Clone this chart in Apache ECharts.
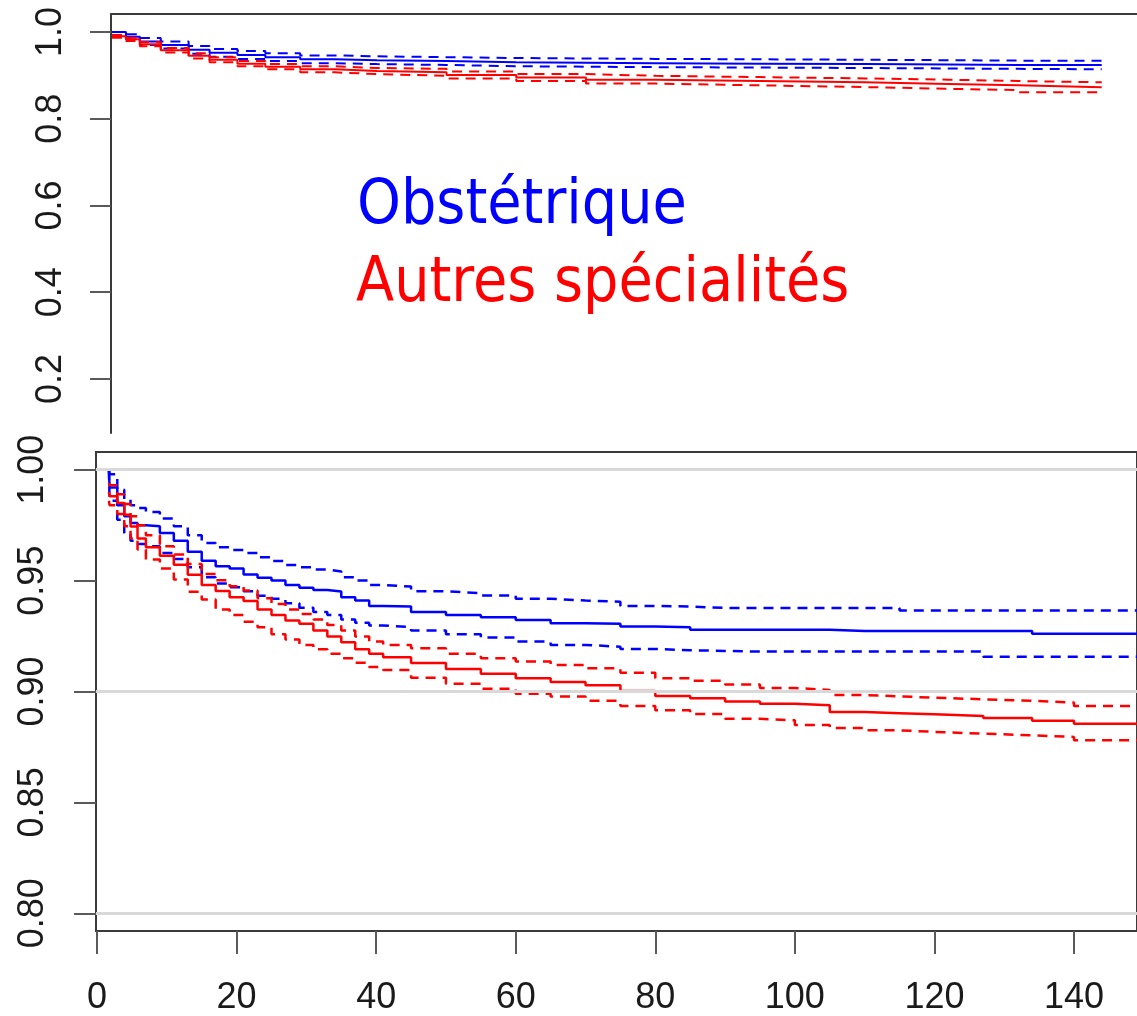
<!DOCTYPE html>
<html>
<head>
<meta charset="utf-8">
<script src="https://cdn.jsdelivr.net/npm/echarts@6/dist/echarts.min.js"></script>
<style>
html,body{margin:0;padding:0;background:#fff;}
#chart{width:1137px;height:1016px;}
</style>
</head>
<body>
<div id="chart"></div>
<script>
// ---------- Data ----------
// Legend labels
const groupNames = ['Obstétrique', 'Autres spécialités'];

// Top panel (full scale)
const topTimes      = [2, 4, 6, 9, 13, 16, 20, 24, 29, 34, 40, 50, 60, 70, 80, 95, 110, 122, 132, 144];
const topBlueSurv   = [1.0, 0.989, 0.978, 0.970, 0.959, 0.952, 0.947, 0.942, 0.937, 0.935, 0.933, 0.930, 0.929, 0.928, 0.927, 0.926, 0.925, 0.924, 0.924, 0.924];
const topBlueUpper  = [1.0, 0.995, 0.986, 0.978, 0.968, 0.961, 0.956, 0.951, 0.946, 0.944, 0.942, 0.940, 0.939, 0.938, 0.937, 0.936, 0.935, 0.934, 0.934, 0.934];
const topBlueLower  = [1.0, 0.983, 0.970, 0.962, 0.950, 0.943, 0.938, 0.933, 0.928, 0.926, 0.924, 0.921, 0.920, 0.919, 0.918, 0.917, 0.916, 0.915, 0.914, 0.914];
const topRedSurv    = [0.990, 0.983, 0.972, 0.958, 0.945, 0.936, 0.927, 0.920, 0.914, 0.910, 0.907, 0.901, 0.895, 0.890, 0.887, 0.884, 0.880, 0.877, 0.8725, 0.8725];
const topRedUpper   = [0.993, 0.987, 0.977, 0.963, 0.951, 0.942, 0.933, 0.926, 0.921, 0.917, 0.915, 0.909, 0.903, 0.899, 0.896, 0.893, 0.890, 0.887, 0.884, 0.884];
const topRedLower   = [0.987, 0.979, 0.967, 0.953, 0.939, 0.930, 0.921, 0.914, 0.907, 0.903, 0.899, 0.893, 0.887, 0.881, 0.877, 0.873, 0.869, 0.866, 0.861, 0.859];
const topYTicks     = [0.2, 0.4, 0.6, 0.8, 1.0];

// Bottom panel (zoomed)
const botTimes      = [1.7, 1.8, 2.9, 3.9, 4.8, 5.8, 7, 9, 11, 13, 15, 17, 19, 21, 23, 25, 27, 29, 31, 33, 35, 37, 39, 41, 45, 50, 55, 60, 65, 70, 75, 80, 85, 90, 95, 100, 105, 110, 115, 120, 127, 134, 140, 150];
const botBlueSurv   = [1.0, 0.992, 0.984, 0.979, 0.976, 0.975, 0.9745, 0.9715, 0.968, 0.963, 0.959, 0.9565, 0.9555, 0.9528, 0.9513, 0.950, 0.948, 0.9468, 0.9458, 0.9451, 0.9425, 0.941, 0.9385, 0.9383, 0.9358, 0.9345, 0.9335, 0.9322, 0.9308, 0.9305, 0.9293, 0.929, 0.9278, 0.9278, 0.9278, 0.9278, 0.9273, 0.9273, 0.9273, 0.9273, 0.9273, 0.926, 0.926, 0.926];
const botBlueUpper  = [1.0, 0.998, 0.991, 0.9865, 0.984, 0.9827, 0.981, 0.978, 0.9745, 0.9705, 0.967, 0.965, 0.9638, 0.9625, 0.9605, 0.9588, 0.957, 0.956, 0.955, 0.9541, 0.9515, 0.950, 0.948, 0.9473, 0.9452, 0.9443, 0.9433, 0.9418, 0.941, 0.9405, 0.9386, 0.9383, 0.9377, 0.9377, 0.9377, 0.9377, 0.9377, 0.9377, 0.9365, 0.9365, 0.9365, 0.9365, 0.9365, 0.9365];
const botBlueLower  = [1.0, 0.986, 0.9775, 0.9715, 0.968, 0.9665, 0.9655, 0.9625, 0.9598, 0.956, 0.9515, 0.9487, 0.947, 0.9452, 0.9432, 0.9418, 0.9398, 0.9378, 0.9358, 0.9345, 0.9325, 0.931, 0.9298, 0.929, 0.9275, 0.9258, 0.9243, 0.9225, 0.921, 0.9202, 0.9192, 0.9186, 0.9183, 0.918, 0.918, 0.918, 0.918, 0.918, 0.918, 0.918, 0.9157, 0.9157, 0.9157, 0.9157];
const botRedSurv    = [0.990, 0.988, 0.985, 0.9797, 0.9744, 0.969, 0.965, 0.9612, 0.9572, 0.9527, 0.948, 0.9453, 0.9425, 0.9408, 0.937, 0.9345, 0.932, 0.9305, 0.9275, 0.9248, 0.9222, 0.919, 0.917, 0.9155, 0.9128, 0.9102, 0.908, 0.906, 0.9043, 0.9028, 0.9002, 0.898, 0.897, 0.8955, 0.8945, 0.8938, 0.8907, 0.8902, 0.8897, 0.889, 0.888, 0.8868, 0.8855, 0.8842];
const botRedUpper   = [0.994, 0.993, 0.989, 0.9845, 0.979, 0.975, 0.9705, 0.9655, 0.9618, 0.9575, 0.953, 0.9502, 0.9475, 0.9455, 0.942, 0.9395, 0.937, 0.935, 0.9325, 0.930, 0.9275, 0.9248, 0.9225, 0.921, 0.9195, 0.917, 0.915, 0.9135, 0.912, 0.9105, 0.9085, 0.906, 0.9048, 0.9032, 0.9016, 0.9007, 0.8984, 0.8978, 0.8972, 0.8965, 0.8958, 0.895, 0.8935, 0.8925];
const botRedLower   = [0.986, 0.984, 0.980, 0.9745, 0.969, 0.964, 0.9595, 0.9555, 0.9505, 0.945, 0.9415, 0.937, 0.9345, 0.9315, 0.929, 0.9258, 0.9235, 0.921, 0.919, 0.917, 0.915, 0.913, 0.911, 0.9097, 0.9062, 0.9035, 0.9012, 0.899, 0.8978, 0.8958, 0.8935, 0.8915, 0.8898, 0.8877, 0.887, 0.8849, 0.8835, 0.8825, 0.8818, 0.881, 0.8802, 0.8795, 0.878, 0.8765];
const botYTicks     = [0.80, 0.85, 0.90, 0.95, 1.00];
const botXTicks     = [0, 20, 40, 60, 80, 100, 120, 140];
const botGridLines  = [1.00, 0.90, 0.80];

// ---------- Chart ----------
const BLUE = '#0000ff', RED = '#ff0000';
const AXIS = '#3a3a3a', TICK = '#5a5a5a', TXT = '#1a1a1a';
const FONT = '"Liberation Sans", Arial, sans-serif';
const LEGEND_FONT = '62px "DejaVu Sans Condensed", "DejaVu Sans", sans-serif';

function zip(T, V) { return T.map((t, i) => [t, V[i]]); }

function km(name, T, V, color, dashed, gi, w) {
  return {
    type: 'line', name: name, xAxisIndex: gi, yAxisIndex: gi,
    step: 'end', showSymbol: false, symbol: 'none', z: 3,
    data: zip(T, V),
    lineStyle: { color: color, width: w, type: dashed ? [10, 7] : 'solid' },
    emphasis: { disabled: true }, silent: true
  };
}

const chart = echarts.init(document.getElementById('chart'), null, { renderer: 'canvas' });

const option = {
  animation: false,
  backgroundColor: '#ffffff',
  grid: [
    { left: 111, right: -3, top: 14, height: 419 },
    { left: 96, right: -3, top: 452, height: 479, show: true, borderColor: AXIS, borderWidth: 2, backgroundColor: '#ffffff' }
  ],
  xAxis: [
    {
      gridIndex: 0, type: 'value', position: 'top', min: 1.86, max: 149.06,
      axisLine: { show: true, onZero: false, lineStyle: { color: AXIS, width: 2 } },
      axisTick: { show: false }, axisLabel: { show: false }, splitLine: { show: false }
    },
    {
      gridIndex: 1, type: 'value', position: 'bottom', min: -0.15, max: 149.03,
      axisLine: { show: true, onZero: false, lineStyle: { color: AXIS, width: 2 } },
      axisTick: { show: true, customValues: botXTicks, length: 23, lineStyle: { color: TICK, width: 2 } },
      axisLabel: { show: true, customValues: botXTicks, formatter: v => String(v), margin: 49,
                   fontFamily: FONT, fontSize: 36, color: TXT },
      splitLine: { show: false }
    }
  ],
  yAxis: [
    {
      gridIndex: 0, type: 'value', min: 0.0755, max: 1.0415,
      axisLine: { show: true, onZero: false, lineStyle: { color: AXIS, width: 2 } },
      axisTick: { show: true, customValues: topYTicks, length: 21, lineStyle: { color: TICK, width: 2 } },
      axisLabel: { show: true, customValues: topYTicks, formatter: v => v.toFixed(1), rotate: 90, margin: 42,
                   fontFamily: FONT, fontSize: 36, color: TXT },
      splitLine: { show: false }
    },
    {
      gridIndex: 1, type: 'value', min: 0.792, max: 1.008,
      axisLine: { show: true, onZero: false, lineStyle: { color: AXIS, width: 2 } },
      axisTick: { show: true, customValues: botYTicks, length: 22, lineStyle: { color: TICK, width: 2 } },
      axisLabel: { show: true, customValues: botYTicks, formatter: v => v.toFixed(2), rotate: 90, margin: 45,
                   fontFamily: FONT, fontSize: 36, color: TXT },
      splitLine: { show: false }
    }
  ],
  graphic: [
    { type: 'text', x: 357, y: 207, z: 10,
      style: { text: groupNames[0], font: LEGEND_FONT, fill: BLUE, align: 'left', verticalAlign: 'middle' } },
    { type: 'text', x: 356, y: 285, z: 10,
      style: { text: groupNames[1], font: LEGEND_FONT, fill: RED, align: 'left', verticalAlign: 'middle' } }
  ],
  series: [
    {
      type: 'line', xAxisIndex: 1, yAxisIndex: 1, data: [], z: 1, silent: true,
      markLine: {
        silent: true, symbol: ['none', 'none'], label: { show: false },
        lineStyle: { color: '#d9d9d9', width: 3, type: 'solid' },
        emphasis: { disabled: true },
        data: botGridLines.map(v => ({ yAxis: v }))
      }
    },
    // top panel
    km(groupNames[0], topTimes, topBlueUpper, BLUE, true, 0, 2),
    km(groupNames[0], topTimes, topBlueLower, BLUE, true, 0, 2),
    km(groupNames[0], topTimes, topBlueSurv, BLUE, false, 0, 2),
    km(groupNames[1], topTimes, topRedUpper, RED, true, 0, 2),
    km(groupNames[1], topTimes, topRedLower, RED, true, 0, 2),
    km(groupNames[1], topTimes, topRedSurv, RED, false, 0, 2),
    // bottom panel
    km(groupNames[0], botTimes, botBlueUpper, BLUE, true, 1, 2.5),
    km(groupNames[0], botTimes, botBlueLower, BLUE, true, 1, 2.5),
    km(groupNames[0], botTimes, botBlueSurv, BLUE, false, 1, 2.5),
    km(groupNames[1], botTimes, botRedUpper, RED, true, 1, 2.5),
    km(groupNames[1], botTimes, botRedLower, RED, true, 1, 2.5),
    km(groupNames[1], botTimes, botRedSurv, RED, false, 1, 2.5)
  ]
};

chart.setOption(option);
</script>
</body>
</html>
